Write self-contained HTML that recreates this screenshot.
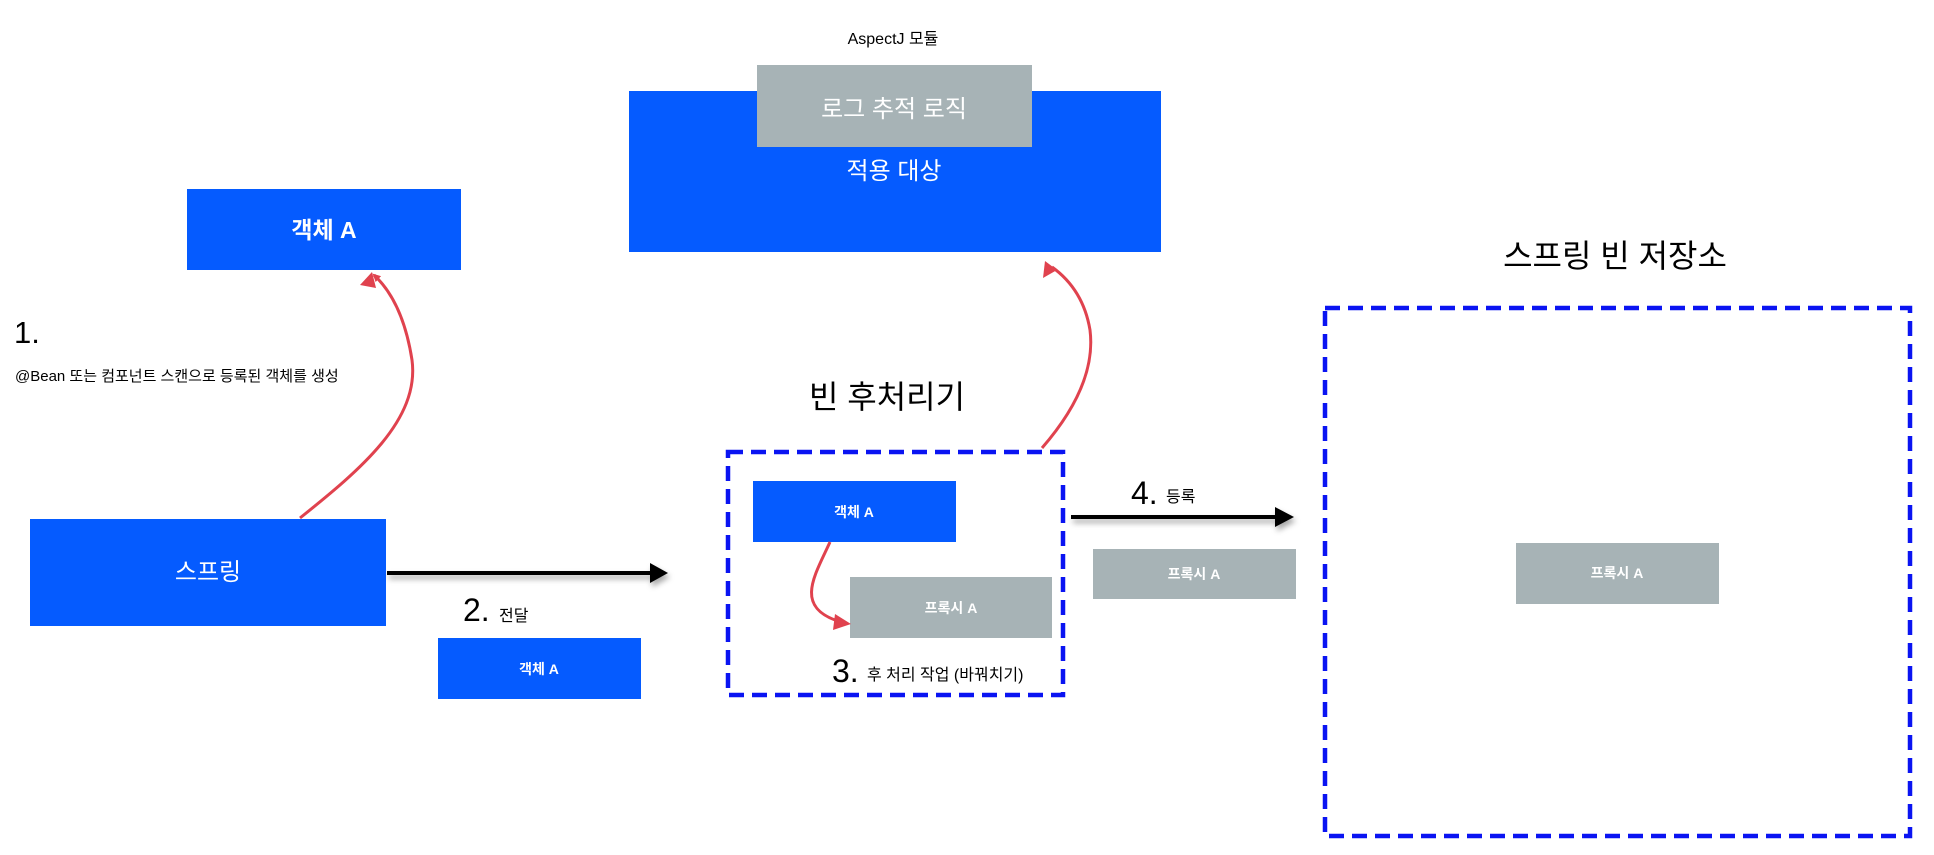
<!DOCTYPE html>
<html><head><meta charset="utf-8"><style>
html,body{margin:0;padding:0;background:#fff;}
svg{display:block;}
text{font-family:"Liberation Sans","Noto Sans CJK KR",sans-serif;}
</style></head><body>
<svg width="1934" height="855" viewBox="0 0 1934 855" xmlns="http://www.w3.org/2000/svg">
<defs>
<marker id="ra" markerWidth="8" markerHeight="8" refX="6" refY="4" orient="auto" markerUnits="userSpaceOnUse" viewBox="0 0 8 8"><path d="M0,0 L8,4 L0,8 Z" fill="#E0424E"/></marker>
<filter id="sh" x="-10%" y="-100%" width="120%" height="400%"><feDropShadow dx="2" dy="4" stdDeviation="3" flood-color="#000" flood-opacity="0.35"/></filter>
</defs>

<!-- AspectJ -->
<text x="893" y="44" font-size="16" text-anchor="middle" fill="#000">AspectJ 모듈</text>
<rect x="629" y="91" width="532" height="161" fill="#055BFF"/>
<rect x="757" y="65" width="275" height="82" fill="#A7B3B6"/>
<text x="894" y="117" font-size="24" text-anchor="middle" fill="#fff">로그 추적 로직</text>
<text x="894" y="179" font-size="24" text-anchor="middle" fill="#fff">적용 대상</text>

<!-- 객체 A top -->
<rect x="187" y="189" width="274" height="81" fill="#055BFF"/>
<text x="324" y="238" font-size="23" font-weight="bold" text-anchor="middle" fill="#fff">객체 A</text>

<text x="14" y="343" font-size="31" fill="#000">1.</text>
<text x="15" y="381" font-size="15" fill="#000">@Bean 또는 컴포넌트 스캔으로 등록된 객체를 생성</text>

<!-- 스프링 -->
<rect x="30" y="519" width="356" height="107" fill="#055BFF"/>
<text x="208" y="580" font-size="24" text-anchor="middle" fill="#fff">스프링</text>

<!-- red curve 1 -->
<path d="M300,518 C360,470 420,420 412,360 C405,315 390,290 374,275" fill="none" stroke="#E0424E" stroke-width="3" marker-end="url(#ra)" />
<path d="M372,272 l-12,13 l16,3 z" fill="#E0424E"/>

<!-- arrow 2 -->
<g filter="url(#sh)">
<line x1="387" y1="573" x2="652" y2="573" stroke="#000" stroke-width="4"/>
<path d="M650,563 L668,573 L650,583 Z" fill="#000"/>
</g>
<text x="463" y="621" font-size="32" fill="#000">2.</text>
<text x="499" y="621" font-size="16" fill="#000">전달</text>
<rect x="438" y="638" width="203" height="61" fill="#055BFF"/>
<text x="539" y="674" font-size="14" font-weight="bold" text-anchor="middle" fill="#fff">객체 A</text>

<!-- 빈 후처리기 -->
<text x="887" y="408" font-size="32" text-anchor="middle" fill="#000">빈 후처리기</text>
<rect x="728" y="452" width="335" height="243" fill="none" stroke="#0A14F2" stroke-width="4.5" stroke-dasharray="15,8"/>
<rect x="753" y="481" width="203" height="61" fill="#055BFF"/>
<text x="854" y="517" font-size="14" font-weight="bold" text-anchor="middle" fill="#fff">객체 A</text>
<rect x="850" y="577" width="202" height="61" fill="#A7B3B6"/>
<text x="951" y="613" font-size="14" font-weight="bold" text-anchor="middle" fill="#fff">프록시 A</text>
<path d="M830,542 C815,575 795,605 835,620" fill="none" stroke="#E0424E" stroke-width="3"/>
<path d="M851,624 l-16,-10 l-2,16 z" fill="#E0424E"/>
<text x="832" y="682" font-size="32" fill="#000">3.</text>
<text x="867" y="680" font-size="16" fill="#000">후 처리 작업 (바꿔치기)</text>

<!-- red curve 2 -->
<path d="M1042,448 C1075,410 1095,370 1090,330 C1085,300 1070,280 1052,267" fill="none" stroke="#E0424E" stroke-width="3"/>
<path d="M1045,261 l-2,17 l14,-8 z" fill="#E0424E"/>

<!-- arrow 4 -->
<g filter="url(#sh)">
<line x1="1071" y1="517" x2="1277" y2="517" stroke="#000" stroke-width="4"/>
<path d="M1275,507 L1294,517 L1275,527 Z" fill="#000"/>
</g>
<text x="1131" y="556" font-size="32" fill="#000" transform="translate(0,-52)">4.</text>
<text x="1166" y="502" font-size="16" fill="#000">등록</text>
<rect x="1093" y="549" width="203" height="50" fill="#A7B3B6"/>
<text x="1194" y="579" font-size="14" font-weight="bold" text-anchor="middle" fill="#fff">프록시 A</text>

<!-- 스프링 빈 저장소 -->
<text x="1615" y="267" font-size="32" text-anchor="middle" fill="#000">스프링 빈 저장소</text>
<rect x="1325" y="308" width="585" height="528" fill="none" stroke="#0A14F2" stroke-width="4.5" stroke-dasharray="15,8"/>
<rect x="1516" y="543" width="203" height="61" fill="#A7B3B6"/>
<text x="1617" y="578" font-size="14" font-weight="bold" text-anchor="middle" fill="#fff">프록시 A</text>
</svg>
</body></html>
